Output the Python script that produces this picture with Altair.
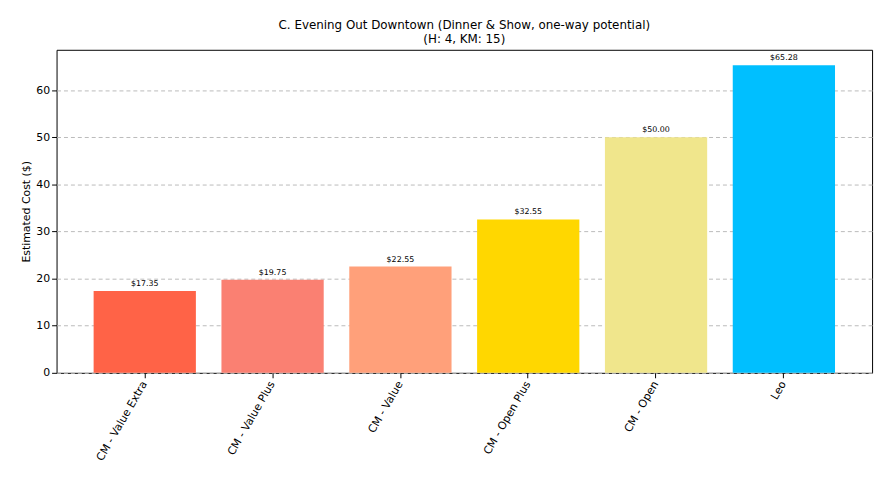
import pandas as pd
import altair as alt

options = ["CM - Value Extra", "CM - Value Plus", "CM - Value", "CM - Open Plus", "CM - Open", "Leo"]
costs = [17.35, 19.75, 22.55, 32.55, 50.00, 65.28]
colors = ["#FF6347", "#FA8072", "#FFA07A", "#FFD700", "#F0E68C", "#00BFFF"]

df = pd.DataFrame({"option": options, "cost": costs})
df["label"] = df["cost"].map(lambda v: f"${v:.2f}")

font = "DejaVu Sans"

base = alt.Chart(df).encode(
    x=alt.X("option:N", sort=options, title=None,
            scale=alt.Scale(paddingInner=0.2, paddingOuter=0.29),
            axis=alt.Axis(labelAngle=300, labelAlign="right", labelBaseline="middle",
                          labelFontSize=11, labelColor="black", tickColor="black",
                          domain=False, labelPadding=4)),
    y=alt.Y("cost:Q", title="Estimated Cost ($)",
            scale=alt.Scale(domain=[0, 68.54], nice=False),
            axis=alt.Axis(values=[0, 10, 20, 30, 40, 50, 60], grid=True, gridDash=[4, 3],
                          gridColor="#bbbbbb", domain=False, labelFontSize=11,
                          labelColor="black", tickColor="black", titleFontSize=11,
                          titleFontWeight="normal", titleColor="black")),
)

bars = base.mark_bar().encode(
    color=alt.Color("option:N", sort=options, legend=None,
                    scale=alt.Scale(domain=options, range=colors))
)

text = base.mark_text(dy=-7, fontSize=8, font=font, color="black").encode(text="label:N")

chart = (bars + text).properties(
    width=823, height=326,
    title=alt.Title(["C. Evening Out Downtown (Dinner & Show, one-way potential)", "(H: 4, KM: 15)"],
                    fontSize=12, fontWeight="normal", font=font, color="black", offset=4),
    autosize=alt.AutoSizeParams(type="none"),
    padding={"left": 49, "top": 40, "right": 9, "bottom": 108},
).configure_view(stroke="black", strokeWidth=1).configure_axis(
    labelFont=font, titleFont=font
)

chart.save("out.html", embed_options={"renderer": "svg", "actions": False})
